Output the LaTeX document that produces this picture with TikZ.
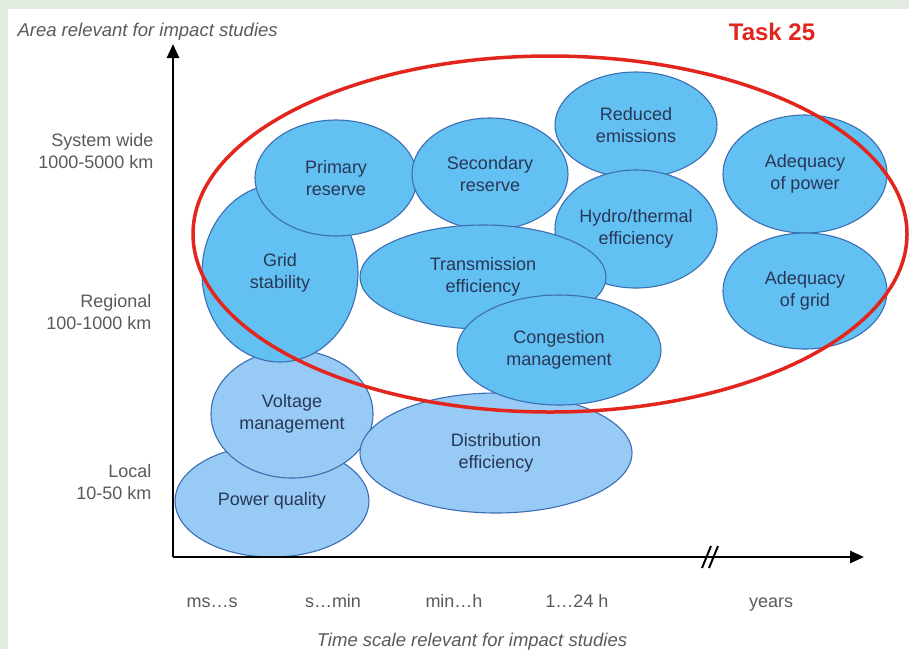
\documentclass[tikz,border=0pt]{standalone}
\usepackage{fontspec}
\setmainfont{Liberation Sans}
\usetikzlibrary{shapes.geometric,arrows.meta}
\definecolor{skyblue}{RGB}{98,192,242}
\definecolor{paleblue}{RGB}{152,202,246}
\definecolor{edgeblue}{RGB}{60,110,178}
\definecolor{taskred}{RGB}{226,38,30}
\definecolor{framegreen}{RGB}{226,235,224}
\definecolor{labelgray}{RGB}{90,90,90}
\definecolor{textnavy}{RGB}{40,55,85}

\begin{document}
\begin{tikzpicture}[x=1pt,y=-1pt,
        blob/.style={ellipse,draw=edgeblue,line width=1.1pt,fill=skyblue,inner sep=0pt,
                     align=center,text=textnavy,font=\fontsize{18}{22}\selectfont},
        pale/.style={blob,fill=paleblue},
        scalelab/.style={text=labelgray,font=\fontsize{18}{22}\selectfont},
        axisline/.style={line width=2.6pt,-{Triangle[length=14pt,width=12pt]}}]
        \useasboundingbox (0,0) rectangle (909,649);
        \fill[framegreen] (0,0) rectangle (909,649);
        \fill[white] (8,9) rectangle (909,649);

        \node[pale,minimum width=194pt,minimum height=112pt] (PQ) at (272,501) {Power quality};
        \node[pale,minimum width=162pt,minimum height=128pt] (VM) at (292,414) {Voltage\\management};
        \node[pale,minimum width=272pt,minimum height=120pt] (DE) at (496,453) {Distribution\\efficiency};
        \node[blob,minimum width=156pt,minimum height=178pt] (GS) at (280,273) {Grid\\stability};
        \node[blob,minimum width=162pt,minimum height=116pt] (PR) at (336,178) {Primary\\reserve};
        \node[blob,minimum width=156pt,minimum height=112pt] (SR) at (490,174) {Secondary\\reserve};
        \node[blob,minimum width=162pt,minimum height=106pt] (RE) at (636,125) {Reduced\\emissions};
        \node[blob,minimum width=162pt,minimum height=118pt] (HT) at (636,229) {Hydro/thermal\\efficiency};
        \node[blob,minimum width=246pt,minimum height=104pt] (TE) at (483,277) {Transmission\\efficiency};
        \node[blob,minimum width=204pt,minimum height=110pt] (CM) at (559,350) {Congestion\\management};
        \node[blob,minimum width=164pt,minimum height=118pt] (AP) at (805,174) {Adequacy\\of power};
        \node[blob,minimum width=164pt,minimum height=116pt] (AG) at (805,291) {Adequacy\\of grid};

        \node[ellipse,draw=taskred,line width=3.5pt,inner sep=0pt,
              minimum width=714pt,minimum height=356pt] (T25) at (550,234) {};
        \node[text=taskred,font=\bfseries\fontsize{24}{28}\selectfont] (task) at (772,32) {Task 25};

        \coordinate (O) at (173,557);
        \coordinate (Y) at (173,44);
        \coordinate (X) at (864,557);
        \draw[axisline] (O) -- (Y);
        \draw[axisline] (O) -- (X);
        \draw[line width=2pt] (702,568) -- (711,546);
        \draw[line width=2pt] (709,568) -- (718,546);

        \node[scalelab,anchor=west,font=\itshape\fontsize{18.5}{22}\selectfont] (area) at (14,32) {Area relevant for impact studies};
        \node[scalelab,anchor=east,align=right] (sys) at (157,151) {System wide\\1000-5000 km};
        \node[scalelab,anchor=east,align=right] (reg) at (155,312) {Regional\\100-1000 km};
        \node[scalelab,anchor=east,align=right] (loc) at (155,482) {Local\\10-50 km};

        \node[scalelab,anchor=base] (t1) at (212,607) {ms…s};
        \node[scalelab,anchor=base] (t2) at (333,607) {s…min};
        \node[scalelab,anchor=base] (t3) at (454,607) {min…h};
        \node[scalelab,anchor=base] (t4) at (577,607) {1…24 h};
        \node[scalelab,anchor=base] (t5) at (771,607) {years};
        \node[scalelab,anchor=base,font=\itshape\fontsize{18.5}{22}\selectfont] (time) at (472,646) {Time scale relevant for impact studies};
\end{tikzpicture}
\end{document}
